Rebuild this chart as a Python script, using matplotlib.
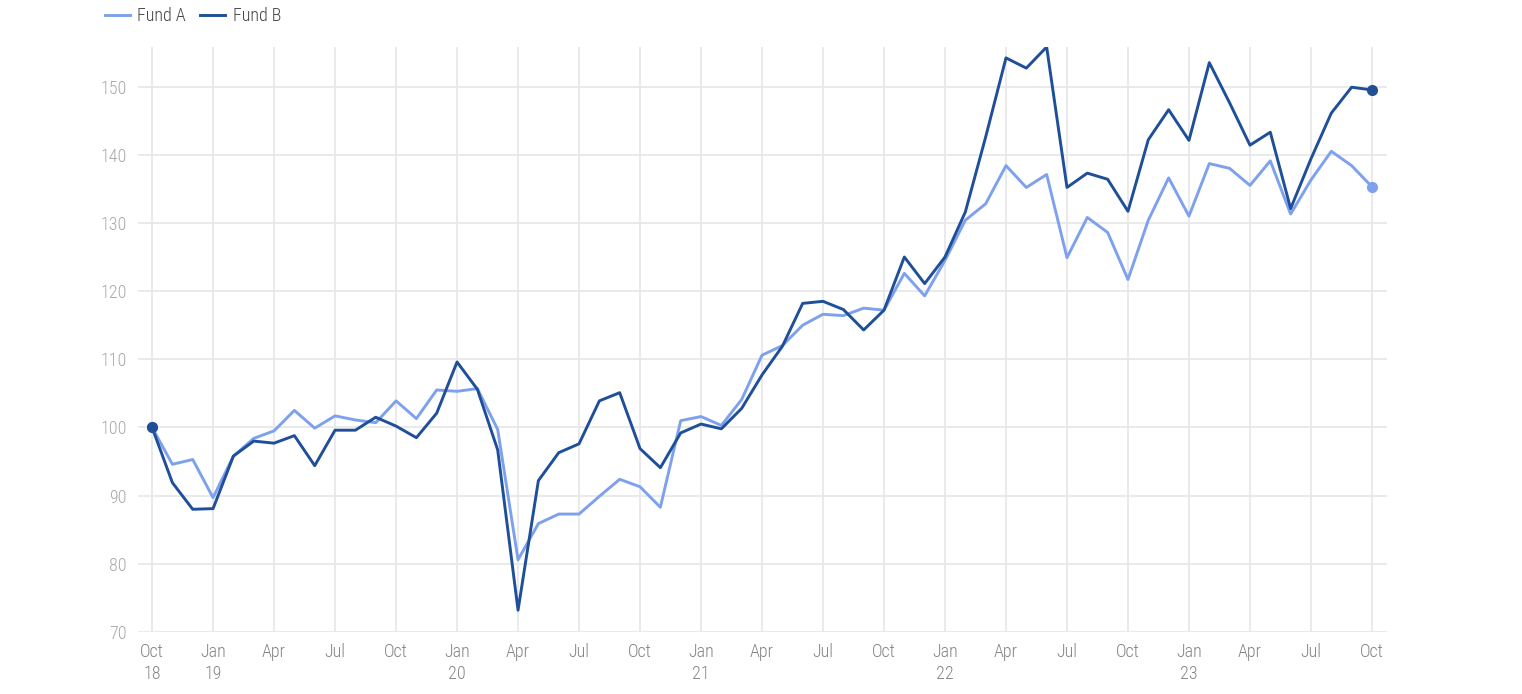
import numpy as np
import pandas as pd
import matplotlib
matplotlib.use("Agg")
import matplotlib.pyplot as plt

plt.rcParams['font.family'] = ['Roboto Condensed', 'Liberation Sans Narrow', 'DejaVu Sans']

# monthly index values, Oct 2018 .. Oct 2023
months = pd.date_range("2018-10-01", "2023-10-01", freq="MS")

fund_a = [100.0, 94.6, 95.3, 89.7, 95.8, 98.4, 99.5, 102.5, 99.9, 101.7,
          101.1, 100.7, 103.9, 101.3, 105.5, 105.3, 105.7, 99.7, 80.6, 85.9,
          87.3, 87.3, 89.9, 92.4, 91.3, 88.3, 101.0, 101.6, 100.3, 104.1,
          110.6, 112.0, 115.0, 116.6, 116.4, 117.5, 117.2, 122.6, 119.3, 124.5,
          130.4, 132.8, 138.4, 135.2, 137.1, 124.9, 130.8, 128.6, 121.7, 130.4,
          136.6, 131.0, 138.7, 138.0, 135.5, 139.1, 131.3, 136.3, 140.5, 138.4,
          135.3]

fund_b = [100.0, 91.9, 88.0, 88.1, 95.8, 98.0, 97.7, 98.8, 94.4, 99.6,
          99.6, 101.5, 100.2, 98.5, 102.1, 109.6, 105.6, 96.7, 73.2, 92.2,
          96.3, 97.6, 103.9, 105.1, 96.9, 94.1, 99.2, 100.5, 99.8, 102.8,
          107.7, 111.9, 118.2, 118.5, 117.3, 114.3, 117.2, 125.0, 121.1, 125.0,
          131.6, 142.6, 154.2, 152.7, 155.8, 135.2, 137.3, 136.4, 131.7, 142.2,
          146.6, 142.1, 153.5, 147.6, 141.4, 143.3, 132.1, 139.4, 146.1, 149.9,
          149.5]

y_ticks = [70, 80, 90, 100, 110, 120, 130, 140, 150]

color_a = "#7EA1EE"
color_b = "#1F4F99"

fig = plt.figure(figsize=(15.22, 6.94), dpi=100)
ax = fig.add_axes([0.0907, 0.0893, 0.8206, 0.843])

x = np.arange(len(months))
ax.plot(x, fund_a, color=color_a, lw=2.1, label="Fund A", zorder=3)
ax.plot(x, fund_b, color=color_b, lw=2.1, label="Fund B", zorder=4)

# start / end dots
ax.plot([x[0]], [fund_a[0]], 'o', color=color_a, ms=7, zorder=5)
ax.plot([x[-1]], [fund_a[-1]], 'o', color=color_a, ms=7, zorder=5)
ax.plot([x[0]], [fund_b[0]], 'o', color=color_b, ms=7, zorder=6)
ax.plot([x[-1]], [fund_b[-1]], 'o', color=color_b, ms=7, zorder=6)

tick_pos = x[::3]
tick_lab = []
for d in months[::3]:
    lab = d.strftime("%b")
    if d.month == 1 or d == months[0]:
        lab += "\n" + d.strftime("%y")
    tick_lab.append(lab)

ax.set_xticks(tick_pos)
ax.set_xticklabels(tick_lab, color="#858585", fontsize=13, linespacing=1.3, fontweight="light")
ax.set_yticks(y_ticks)
ax.set_yticklabels([str(v) for v in y_ticks], color="#a8a8a8", fontsize=13, fontweight="light")
ax.tick_params(axis="x", length=0, pad=8)
ax.tick_params(axis="y", length=0, pad=8)

ax.set_xlim(-0.69, 60.74)
ax.set_ylim(70, 155.8)

ax.grid(True, color="#e8e8e8", lw=1.3)
ax.set_axisbelow(True)
for s in ax.spines.values():
    s.set_visible(False)

leg = fig.legend(loc="upper left", bbox_to_anchor=(0.058, 1.013), ncol=2, frameon=False,
                 prop={"size": 13, "weight": "light"},
                 handlelength=1.4, handletextpad=0.4, columnspacing=0.8)
for t in leg.get_texts():
    t.set_color("#444444")

fig.savefig("out.png", dpi=100)
